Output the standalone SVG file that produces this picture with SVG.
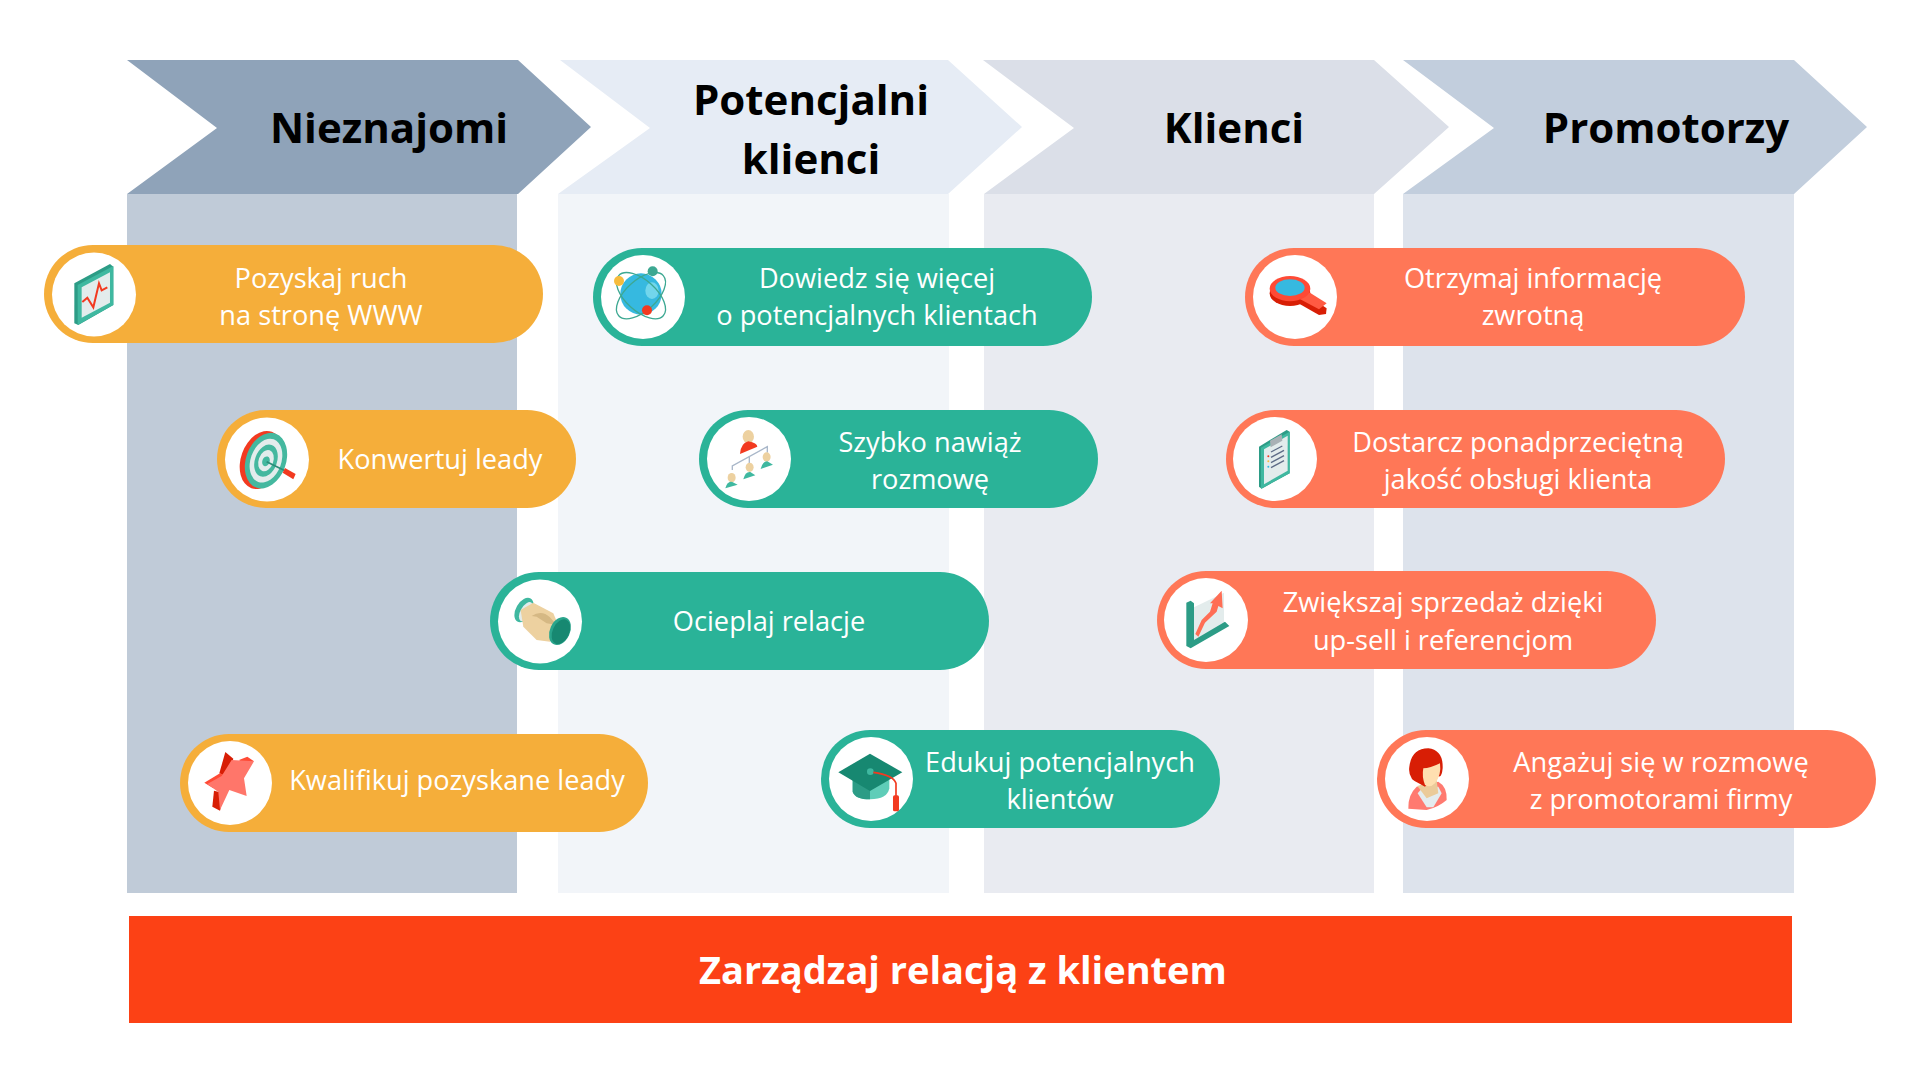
<svg xmlns="http://www.w3.org/2000/svg" width="1920" height="1080" viewBox="0 0 1920 1080">
<style>
text{font-family:"Open Sans","Noto Sans","Liberation Sans",sans-serif}
.h{font-size:42px;font-weight:700;fill:#000;text-anchor:middle}
.b{font-size:38px;font-weight:700;fill:#fff;text-anchor:middle}
.t{font-size:27.2px;fill:#fff;text-anchor:middle}
.o{fill:#F5AE3A}.g{fill:#2AB398}.c{fill:#FF7757}
.w{fill:#fff}
.dk{fill:#178871}.tl{fill:#3FB8A0}.md{fill:#2C9C86}.pale{fill:#E3ECEC}.rd{fill:#F23A20}.drd{fill:#D81E05}.skin{fill:#EDD1A0}
.blue{fill:#36B9E0}
</style>
<rect width="1920" height="1080" fill="#fff"/>
<g id="column-nieznajomi">
<rect x="127" y="194" width="390" height="699" fill="#C0CBD8"/>
<polygon points="127,60 518,60 591,127 518,194 127,194 217,128" fill="#8FA3B9"/>
<text class="h" x="389" y="143">Nieznajomi</text>
</g>
<g id="column-potencjalni">
<rect x="558" y="194" width="391" height="699" fill="#F2F5F9"/>
<polygon points="560,60 948,60 1022,127 948,194 558,194 650,128" fill="#E6ECF5"/>
<text class="h" x="811" y="115">Potencjalni</text>
<text class="h" x="811" y="174">klienci</text>
</g>
<g id="column-klienci">
<rect x="984" y="194" width="390" height="699" fill="#E9EBF1"/>
<polygon points="983,60 1374,60 1449,127 1374,194 984,194 1074,128" fill="#DBDFE8"/>
<text class="h" x="1234" y="143">Klienci</text>
</g>
<g id="column-promotorzy">
<rect x="1403" y="194" width="391" height="699" fill="#DDE3EC"/>
<polygon points="1403,60 1794,60 1867,127 1794,194 1403,194 1494,128" fill="#C2CEDD"/>
<text class="h" x="1666" y="143">Promotorzy</text>
</g>
<g id="bar">
<rect x="129" y="916" width="1663" height="107" fill="#FC4115"/>
<text class="b" x="963" y="984">Zarządzaj relacją z klientem</text>
</g>
<g id="connectors"></g>

<g id="node-pozyskaj">
<rect class="o" x="44" y="245" width="499" height="98" rx="49"/>
<circle class="w" cx="94" cy="294.5" r="42"/>
<g transform="translate(30,230) scale(.3333)">
<polygon class="md" points="133,160 240,102 250,110 250,225 145,285 133,280"/>
<polygon class="tl" points="143,165 250,108 250,225 143,285"/>
<polygon class="pale" points="155,172 240,127 240,218 155,263"/>
<polyline points="157,216 172,203 190,232 207,160 215,181 232,172" fill="none" stroke="#F23A20" stroke-width="6"/>
</g>
<text class="t" x="321" y="288">Pozyskaj ruch</text>
<text class="t" x="321" y="325">na stronę WWW</text>
</g>

<g id="node-konwertuj">
<rect class="o" x="217" y="410" width="359" height="98" rx="49"/>
<circle class="w" cx="267" cy="459.5" r="42"/>
<g transform="translate(30,230) scale(.3333)">
<ellipse cx="695" cy="690" rx="62" ry="90" transform="rotate(20 695 690)" class="rd"/>
<ellipse cx="708" cy="692" rx="60" ry="86" transform="rotate(20 708 692)" fill="#44B89F"/>
<ellipse cx="708" cy="692" rx="46" ry="68" transform="rotate(20 708 692)" class="pale"/>
<ellipse cx="708" cy="692" rx="33" ry="50" transform="rotate(20 708 692)" fill="#44B89F"/>
<ellipse cx="708" cy="692" rx="22" ry="33" transform="rotate(20 708 692)" class="pale"/>
<ellipse cx="708" cy="694" rx="11" ry="15" transform="rotate(20 708 694)" fill="#44B89F"/>
<line x1="710" y1="695" x2="765" y2="722" stroke="#2C8C78" stroke-width="5"/>
<polygon class="rd" points="765,714 797,732 790,748 758,728"/>
</g>
<text class="t" x="440" y="469">Konwertuj leady</text>
</g>

<g id="node-dowiedz">
<rect class="g" x="593" y="248" width="499" height="98" rx="49"/>
<circle class="w" cx="643" cy="297" r="42"/>
<g transform="translate(480,230) scale(.3333)">
<circle class="blue" cx="483" cy="192" r="62"/>
<ellipse cx="516" cy="182" rx="20" ry="25" fill="#72D6EC"/>
<g fill="none" stroke="#3DA892" stroke-width="4">
<ellipse cx="483" cy="197" rx="90" ry="46" transform="rotate(42 483 197)"/>
<ellipse cx="483" cy="197" rx="90" ry="46" transform="rotate(-42 483 197)"/>
</g>
<circle cx="417" cy="153" r="15" fill="#F7BC3C"/>
<circle cx="518" cy="124" r="15" fill="#3DA892"/>
<circle class="rd" cx="501" cy="241" r="15"/>
</g>
<text class="t" x="877" y="288">Dowiedz się więcej</text>
<text class="t" x="877" y="325">o potencjalnych klientach</text>
</g>

<g id="node-szybko">
<rect class="g" x="699" y="410" width="399" height="98" rx="49"/>
<circle class="w" cx="749" cy="459" r="42"/>
<g transform="translate(480,230) scale(.3333)">
<g fill="none" stroke="#A9B7C9" stroke-width="4">
<polyline points="757,720 757,708 862,650 862,668"/>
<line x1="808" y1="680" x2="808" y2="700"/>
</g>
<ellipse class="skin" cx="805" cy="620" rx="17" ry="20"/>
<path class="rd" d="M780,672Q782,640 805,634Q832,640 832,650Z"/>
<ellipse class="skin" cx="755" cy="743" rx="12" ry="14"/><path class="tl" d="M736,775Q742,752 757,756L773,764Z"/>
<ellipse class="skin" cx="809" cy="712" rx="12" ry="14"/><path class="tl" d="M790,748Q796,724 811,726L826,736Z"/>
<ellipse class="skin" cx="860" cy="681" rx="12" ry="14"/><path class="tl" d="M842,717Q848,694 862,694L879,704Z"/>
</g>
<text class="t" x="930" y="452">Szybko nawiąż</text>
<text class="t" x="930" y="489">rozmowę</text>
</g>

<g id="node-ocieplaj">
<rect class="g" x="490" y="572" width="499" height="98" rx="49"/>
<circle class="w" cx="540" cy="621.5" r="42"/>
<g transform="translate(170,560) scale(.3333)">
<ellipse class="tl" cx="1062" cy="150" rx="24" ry="40" transform="rotate(30 1062 150)"/>
<ellipse class="pale" cx="1068" cy="155" rx="16" ry="32" transform="rotate(30 1068 155)"/>
<path class="skin" d="M1052,150L1090,128L1150,160L1165,195L1140,245L1100,240L1060,200Z"/>
<path d="M1085,168Q1115,148 1140,172L1160,195L1130,190L1100,170Z" fill="#D5B884"/>
<ellipse cx="1170" cy="213" rx="30" ry="44" transform="rotate(25 1170 213)" fill="#2AA58C"/>
<ellipse cx="1173" cy="215" rx="25" ry="39" transform="rotate(25 1173 215)" class="dk"/>
</g>
<text class="t" x="769" y="631">Ocieplaj relacje</text>
</g>

<g id="node-kwalifikuj">
<rect class="o" x="180" y="734" width="468" height="98" rx="49"/>
<circle class="w" cx="230" cy="783" r="42"/>
<g transform="translate(170,560) scale(.3333)">
<polygon class="drd" points="166,576 190,596 172,652 148,640"/>
<polygon class="drd" points="127,740 150,752 162,700 132,692"/>
<polygon points="207,600 232,590 252,604 225,615" fill="#FF4A35"/>
<polygon points="103,668 150,640 170,650 130,685" fill="#FF4A35"/>
<polygon points="185,600 252,604 222,655 230,708 178,690 150,750 145,696 112,672 155,648" fill="#FF766A"/>
</g>
<text class="t" x="457" y="790">Kwalifikuj pozyskane leady</text>
</g>

<g id="node-edukuj">
<rect class="g" x="821" y="730" width="399" height="98" rx="49"/>
<circle class="w" cx="871" cy="779" r="42"/>
<g transform="translate(810,720) scale(.3333)">
<path d="M128,180V215Q135,238 180,238Q232,238 238,205V180Z" fill="#5FCDB8"/>
<path class="md" d="M128,180V215Q135,238 180,238V190Z"/>
<polygon class="dk" points="180,101 277,157 180,213 85,157"/>
<circle cx="181" cy="155" r="10" fill="#3FB8A0"/>
<path d="M190,157Q250,165 258,190V230" fill="none" stroke="#F23A20" stroke-width="5"/>
<rect class="rd" x="249" y="226" width="18" height="48" rx="5"/>
</g>
<text class="t" x="1060" y="772">Edukuj potencjalnych</text>
<text class="t" x="1060" y="809">klientów</text>
</g>

<g id="node-otrzymaj">
<rect class="c" x="1245" y="248" width="500" height="98" rx="49"/>
<circle class="w" cx="1295" cy="297" r="42"/>
<g transform="translate(1220,240) scale(.3333)">
<ellipse class="drd" cx="210" cy="160" rx="61" ry="38"/>
<polygon class="drd" points="260,165 320,205 318,222 297,225 235,190"/>
<polygon points="265,155 320,190 297,208 235,175" fill="#FF5A42"/>
<ellipse cx="210" cy="146" rx="61" ry="38" fill="#FF4A35"/>
<ellipse class="blue" cx="210" cy="143" rx="44" ry="25"/>
</g>
<text class="t" x="1533" y="288">Otrzymaj informację</text>
<text class="t" x="1533" y="325">zwrotną</text>
</g>

<g id="node-dostarcz">
<rect class="c" x="1226" y="410" width="499" height="98" rx="49"/>
<circle class="w" cx="1275" cy="459" r="42"/>
<g transform="translate(1220,240) scale(.3333)">
<polygon class="md" points="117,620 200,570 209,575 209,700 125,746 117,740"/>
<polygon class="tl" points="123,623 209,575 209,700 123,746"/>
<polygon class="pale" points="132,628 203,587 203,692 132,733"/>
<polygon points="150,602 185,583 187,602 152,622" fill="#A9B1B5"/>
<g stroke="#5D6B86" stroke-width="4"><line x1="153" y1="636" x2="187" y2="618"/><line x1="153" y1="652" x2="192" y2="631"/><line x1="153" y1="668" x2="192" y2="647"/><line x1="153" y1="683" x2="192" y2="662"/></g>
<circle class="rd" cx="145" cy="649" r="3"/><circle cx="145" cy="664" r="3" fill="#F7BC3C"/><circle class="blue" cx="145" cy="680" r="3"/>
</g>
<text class="t" x="1518" y="452">Dostarcz ponadprzeciętną</text>
<text class="t" x="1518" y="489">jakość obsługi klienta</text>
</g>

<g id="node-zwieksz">
<rect class="c" x="1157" y="571" width="499" height="98" rx="49"/>
<circle class="w" cx="1206" cy="620" r="42"/>
<g transform="translate(1150,570) scale(.3333)">
<polygon class="pale" points="132,112 222,68 222,165 132,215"/>
<polygon class="md" points="109,98 122,92 132,100 132,210 225,155 238,168 122,235 109,228"/>
<polygon points="136,192 155,150 180,125 188,100 180,100 215,62 218,115 205,108 200,125 165,158 145,200" fill="#FF6E55"/>
</g>
<text class="t" x="1443" y="612">Zwiększaj sprzedaż dzięki</text>
<text class="t" x="1443" y="650">up-sell i referencjom</text>
</g>

<g id="node-angazuj">
<rect class="c" x="1377" y="730" width="499" height="98" rx="49"/>
<circle class="w" cx="1427" cy="779" r="42"/>
<g transform="translate(1370,730) scale(.3333)">
<path d="M115,236Q113,195 140,170L205,155Q232,170 230,210Q205,232 170,240Z" fill="#FF7A70"/>
<path d="M143,190L160,170H205L215,190L190,232H170Z" fill="#E4ECEF"/>
<path d="M142,168L200,150L205,190L170,205Z" fill="#EBCB9A"/>
<path class="drd" d="M118,110Q125,55 175,55Q220,60 218,115Q215,150 200,135L165,170Q125,150 125,145Q115,130 118,110Z"/>
<path d="M160,115Q180,115 210,100Q215,135 195,160Q180,175 165,165Q155,140 160,115Z" fill="#FFDFB0"/>
</g>
<text class="t" x="1661" y="772">Angażuj się w rozmowę</text>
<text class="t" x="1661" y="809">z promotorami firmy</text>
</g>
</svg>
